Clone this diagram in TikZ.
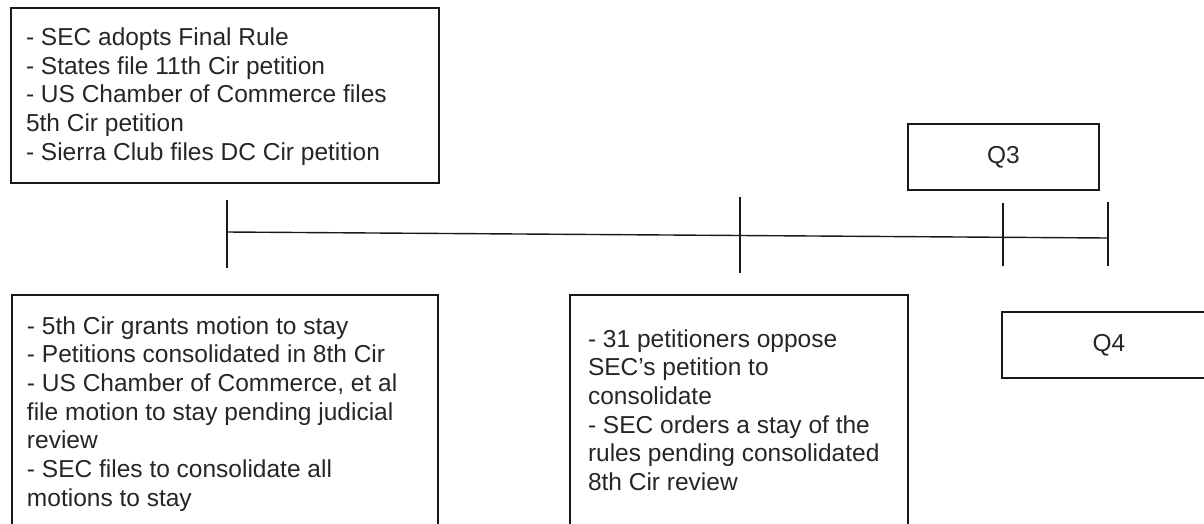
\documentclass[tikz,border=0pt]{standalone}
\usepackage{fontspec}
\setmainfont{Liberation Sans}
\begin{document}
\begin{tikzpicture}[x=1pt,y=-1pt,
  frame/.style={draw=black!90, line width=1.4pt, inner sep=0pt, outer sep=0pt},
  txt/.style={anchor=north west, inner sep=0pt, outer sep=0pt, align=left, text=black!85, font=\fontsize{24.5}{28.7}\selectfont},
  qtxt/.style={inner sep=0pt, text=black!85, font=\fontsize{24.5}{28}\selectfont},
  tl/.style={draw=black!90, line width=1.4pt}]
\useasboundingbox (0,0) rectangle (1204,523);
\clip (0,0) rectangle (1204,523);

% boxes
\node[frame, minimum width=428pt, minimum height=175pt] (box1) at (225,95.5) {};
\node[frame, minimum width=426pt, minimum height=265pt] (box2) at (225,427.5) {};
\node[frame, minimum width=338pt, minimum height=265pt] (box3) at (739,427.5) {};
\node[frame, minimum width=191pt, minimum height=66pt] (box4) at (1003.5,157) {};
\node[frame, minimum width=214pt, minimum height=66pt] (box5) at (1109,345) {};

% texts
\node[txt] (text1) at (26,25.5) {\rule{0pt}{20pt}- SEC adopts Final Rule\\- States file 11th Cir petition\\- US Chamber of Commerce files\\5th Cir petition\\- Sierra Club files DC Cir petition};
\node[txt] (text2) at (27,314) {\rule{0pt}{20pt}- 5th Cir grants motion to stay\\- Petitions consolidated in 8th Cir\\- US Chamber of Commerce, et al\\file motion to stay pending judicial\\review\\- SEC files to consolidate all\\motions to stay};
\node[txt] (text3) at (588,327) {\rule{0pt}{20pt}- 31 petitioners oppose\\SEC’s petition to\\consolidate\\- SEC orders a stay of the\\rules pending consolidated\\8th Cir review};
\node[qtxt] (q3) at (1003.5,157) {Q3};
\node[qtxt] (q4) at (1109,345) {Q4};

% timeline
\coordinate (lineA) at (227,232);
\coordinate (lineB) at (1108,238);
\coordinate (k1t) at (227,200); \coordinate (k1b) at (227,268);
\coordinate (k2t) at (740,197); \coordinate (k2b) at (740,273);
\coordinate (k3t) at (1003,203); \coordinate (k3b) at (1003,266);
\coordinate (k4t) at (1108,202); \coordinate (k4b) at (1108,266);
\draw[tl] (lineA) -- (lineB);
\draw[tl] (k1t) -- (k1b);
\draw[tl] (k2t) -- (k2b);
\draw[tl] (k3t) -- (k3b);
\draw[tl] (k4t) -- (k4b);
\end{tikzpicture}
\end{document}
